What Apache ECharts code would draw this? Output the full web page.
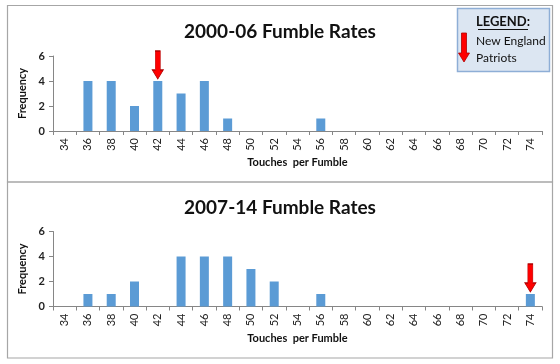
<!DOCTYPE html>
<html><head><meta charset="utf-8">
<script src="https://cdn.jsdelivr.net/npm/echarts@6/dist/echarts.min.js"></script>
<style>html,body{margin:0;padding:0;background:#fff}#c{width:560px;height:364px}</style>
</head><body><div id="c"></div>
<script>
const bins = ['34','36','38','40','42','44','46','48','50','52','54','56','58','60','62','64','66','68','70','72','74'];
const freq2000 = [0,4,4,2,4,3,4,1,0,0,0,1,0,0,0,0,0,0,0,0,0];
const freq2007 = [0,1,1,2,0,4,4,4,3,2,0,1,0,0,0,0,0,0,0,0,1];
const patriots2000 = [['42', 4]];
const patriots2007 = [['74', 1]];
const titles = ['2000-06 Fumble Rates', '2007-14 Fumble Rates'];
const yTicks = [0, 2, 4, 6];

const FONT = 'Lato, "Open Sans", sans-serif';
const ARROW = 'path://M3,0 L8,0 L8,19 L11,19 L5.5,28 L0,19 L3,19 Z';
const tops = [56, 231.5];

const chart = echarts.init(document.getElementById('c'), null, {renderer: 'canvas'});

function xAxis(i) {
  return {
    type: 'category', gridIndex: i, data: bins, boundaryGap: true,
    axisLine: {lineStyle: {color: '#868686', width: 1}},
    axisTick: {show: true, length: 4, alignWithLabel: false, lineStyle: {color: '#868686'}},
    axisLabel: {rotate: 90, fontSize: 11, color: '#222', fontFamily: FONT, margin: 7, interval: 0},
    name: 'Touches  per Fumble', nameLocation: 'middle', nameGap: 26,
    nameTextStyle: {fontSize: 11, fontWeight: 'bold', color: '#111', fontFamily: FONT}
  };
}
function yAxis(i) {
  return {
    type: 'value', gridIndex: i, min: yTicks[0], max: yTicks[yTicks.length - 1], interval: 2,
    axisLine: {show: true, lineStyle: {color: '#868686', width: 1}},
    axisTick: {show: true, length: 4, lineStyle: {color: '#868686'}},
    splitLine: {show: false},
    axisLabel: {fontSize: 11, fontWeight: 'bold', color: '#222', fontFamily: FONT, margin: 8},
    name: 'Frequency', nameLocation: 'middle', nameRotate: 90, nameGap: 19,
    nameTextStyle: {fontSize: 11, fontWeight: 'bold', color: '#111', fontFamily: FONT}
  };
}
function barSeries(i, data) {
  return {type: 'bar', xAxisIndex: i, yAxisIndex: i, data: data, barWidth: 9,
    itemStyle: {color: '#5B9BD5', borderWidth: 0}, silent: true};
}
function arrowSeries(i, data) {
  return {type: 'scatter', xAxisIndex: i, yAxisIndex: i, data: data, symbol: ARROW,
    symbolSize: [11, 28], symbolOffset: [0, -16], z: 5, silent: true,
    itemStyle: {color: '#ff0000', borderColor: '#b00000', borderWidth: 0.8, opacity: 1}};
}

const option = {
  animation: false,
  backgroundColor: '#fff',
  title: [
    {text: titles[0], left: 'center', top: 17, textStyle: {fontSize: 19, fontWeight: 'bold', color: '#111', fontFamily: FONT}},
    {text: titles[1], left: 'center', top: 193, textStyle: {fontSize: 19, fontWeight: 'bold', color: '#111', fontFamily: FONT}}
  ],
  grid: [
    {left: 53, right: 18, top: tops[0], height: 75},
    {left: 53, right: 18, top: tops[1], height: 75}
  ],
  xAxis: [xAxis(0), xAxis(1)],
  yAxis: [yAxis(0), yAxis(1)],
  series: [barSeries(0, freq2000), barSeries(1, freq2007), arrowSeries(0, patriots2000), arrowSeries(1, patriots2007)],
  graphic: [
    {type: 'rect', shape: {x: 7.5, y: 5.5, width: 545, height: 176.5}, style: {fill: 'none', stroke: '#a6a6a6', lineWidth: 1.2}, z: -1},
    {type: 'rect', shape: {x: 7.5, y: 182, width: 545, height: 176}, style: {fill: 'none', stroke: '#a6a6a6', lineWidth: 1.2}, z: -1},
    {type: 'rect', shape: {x: 457.5, y: 8.5, width: 92, height: 63}, style: {fill: '#dce6f2', stroke: '#8eaed6', lineWidth: 1.5}, z: 10},
    {type: 'text', x: 503, y: 22, style: {text: 'LEGEND:', fontSize: 13, fontWeight: 'bold', fill: '#111', fontFamily: FONT, align: 'center', verticalAlign: 'middle'}, z: 11},
    {type: 'line', shape: {x1: 478, y1: 29.5, x2: 528, y2: 29.5}, style: {stroke: '#111', lineWidth: 1}, z: 11},
    {type: 'polygon', shape: {points: [[461.5,33],[466.5,33],[466.5,53],[469.5,53],[464,62],[458.5,53],[461.5,53]]}, style: {fill: '#ff0000', stroke: '#b00000', lineWidth: 0.8}, z: 11},
    {type: 'text', x: 476, y: 41, style: {text: 'New England', fontSize: 12, fill: '#111', fontFamily: FONT, verticalAlign: 'middle'}, z: 11},
    {type: 'text', x: 476, y: 58, style: {text: 'Patriots', fontSize: 12, fill: '#111', fontFamily: FONT, verticalAlign: 'middle'}, z: 11}
  ]
};
chart.setOption(option);
</script></body></html>
